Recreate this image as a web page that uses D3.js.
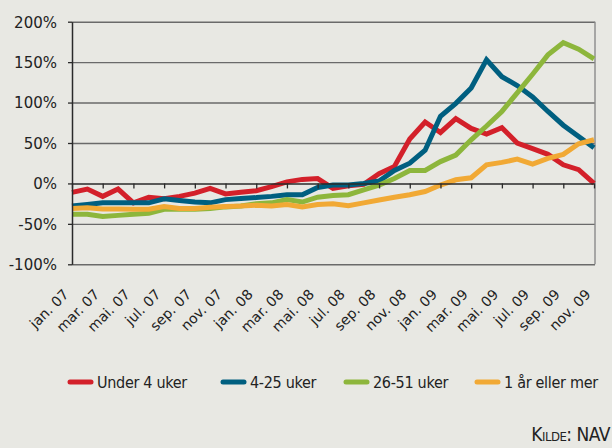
<!DOCTYPE html>
<html>
<head>
<meta charset="utf-8">
<script src="https://cdn.jsdelivr.net/npm/d3@7"></script>
<style>
  body { margin: 0; background: #e8e8e3; }
  #chart { width: 612px; height: 448px; }
  .axis text { font-family: "DejaVu Sans", Verdana, sans-serif; fill: #222; }
  .legend text, .source { font-family: "Liberation Sans Narrow", "DejaVu Sans Condensed", sans-serif; fill: #222; }
</style>
</head>
<body>
<div id="chart"></div>
<script>
// Months jan. 07 - nov. 09
const months = ["jan. 07","feb. 07","mar. 07","apr. 07","mai. 07","jun. 07","jul. 07","aug. 07","sep. 07","okt. 07","nov. 07","des. 07",
                "jan. 08","feb. 08","mar. 08","apr. 08","mai. 08","jun. 08","jul. 08","aug. 08","sep. 08","okt. 08","nov. 08","des. 08",
                "jan. 09","feb. 09","mar. 09","apr. 09","mai. 09","jun. 09","jul. 09","aug. 09","sep. 09","okt. 09","nov. 09"];
const tickLabels = months.filter((m, i) => i % 2 === 0);
const yTicks = [-100, -50, 0, 50, 100, 150, 200];

// Change from same month previous year, %
const under4 = [-11,-7,-16,-7,-24,-17,-19,-16,-12,-6,-13,-11,-9,-4,2,5,6,-6,-3,-1,12,21,55,76,63,80,68,61,69,50,43,36,23,17,0];
const uker4to25 = [-28,-26,-24,-24,-24,-24,-19,-21,-23,-24,-20,-18.5,-17.5,-16,-14,-14,-5,-2,-2,0,3,16,25,41,83,99,118,153,132,121,107,89,72,58,44];
const uker26to51 = [-38,-38,-41,-39.5,-38,-37,-32,-32,-32,-31,-29,-28,-25,-24,-20,-23,-17,-15,-14,-8,-2,6,16,16,27,35,54,71,89,112,135,159,174,166,154];
const aarEllerMer = [-31,-30,-31.5,-31.5,-32,-32,-28.5,-31,-31,-29.5,-28.5,-28,-27,-28,-26,-29,-26,-25,-27.5,-24,-20.5,-17,-14,-10,-2,4.5,7,23,26,30,24,31,36,49,54];

const seriesNames = ["Under 4 uker", "4-25 uker", "26-51 uker", "1 år eller mer"];
const seriesValues = [under4, uker4to25, uker26to51, aarEllerMer];
const colors = ["#d3202a", "#005f80", "#8db63c", "#f1a935"];

const svg = d3.select("#chart").append("svg")
    .attr("width", 612)
    .attr("height", 448);

svg.append("rect").attr("width", 612).attr("height", 448).attr("fill", "#e8e8e3");

const plotLeft = 72, plotRight = 594, plotTop = 21.7, plotBottom = 264.3;

const x = d3.scalePoint().domain(months).range([plotLeft, plotRight]);
const y = d3.scaleLinear().domain([-100, 200]).range([plotBottom, plotTop]);

// Gridlines
svg.append("g")
    .attr("transform", `translate(${plotLeft},0)`)
    .call(d3.axisLeft(y).tickValues(yTicks.filter(d => d !== 0)).tickSize(-(plotRight - plotLeft + 1)).tickFormat(""))
    .call(g => g.select(".domain").remove())
    .call(g => g.selectAll("line").attr("stroke", "#6a6a6a").attr("stroke-width", 1.4));

// Right border
svg.append("line")
    .attr("x1", plotRight + 1).attr("x2", plotRight + 1)
    .attr("y1", plotTop).attr("y2", plotBottom)
    .attr("stroke", "#8a8a8a").attr("stroke-width", 1.4);

// Lines
const line = d3.line()
    .x((d, i) => x(months[i]))
    .y(d => y(d));

svg.append("g").selectAll("path")
    .data(seriesValues)
    .enter().append("path")
        .attr("d", line)
        .attr("fill", "none")
        .attr("stroke", (d, i) => colors[i])
        .attr("stroke-width", 5);

// X axis at 0
const xAxis = svg.append("g")
    .attr("class", "axis")
    .attr("transform", `translate(0,${y(0)})`)
    .call(d3.axisBottom(x).tickValues(tickLabels).tickSize(5).tickSizeOuter(0))
    .call(g => g.select(".domain").attr("stroke", "#2a2a2a").attr("stroke-width", 1.5))
    .call(g => g.selectAll(".tick line").attr("stroke", "#2a2a2a").attr("stroke-width", 1.3));

xAxis.selectAll("text")
    .attr("font-size", 14)
    .attr("text-anchor", "end")
    .attr("dy", 0)
    .attr("y", 0)
    .attr("x", 0)
    .attr("transform", `translate(-3,${y(-100) - y(0) + 31}) rotate(-45)`);

// Y axis
svg.append("g")
    .attr("class", "axis")
    .attr("transform", `translate(${plotLeft},0)`)
    .call(d3.axisLeft(y).tickValues(yTicks).tickFormat(d => d + "%").tickSize(4).tickSizeOuter(0))
    .call(g => g.select(".domain").attr("stroke", "#2a2a2a").attr("stroke-width", 1.5))
    .call(g => g.selectAll(".tick line").attr("stroke", "#2a2a2a").attr("stroke-width", 1.3))
    .call(g => g.selectAll("text").attr("font-size", 15).attr("x", -15).attr("dy", "0.36em"));

// Legend
const legendX = [70, 223, 346, 477];
const legend = svg.append("g").attr("class", "legend");
seriesNames.forEach((name, i) => {
    legend.append("line")
        .attr("x1", legendX[i]).attr("x2", legendX[i] + 21)
        .attr("y1", 382).attr("y2", 382)
        .attr("stroke", colors[i])
        .attr("stroke-width", 5)
        .attr("stroke-linecap", "round");
    legend.append("text")
        .attr("x", legendX[i] + 27)
        .attr("y", 388)
        .attr("font-size", 16)
        .attr("letter-spacing", -0.3)
        .text(name);
});

// Source
svg.append("text")
    .attr("class", "source")
    .attr("x", 610)
    .attr("y", 441)
    .attr("text-anchor", "end")
    .attr("font-size", 19)
    .attr("letter-spacing", -0.5)
    .style("font-variant", "small-caps")
    .text("Kilde: NAV");
</script>
</body>
</html>
